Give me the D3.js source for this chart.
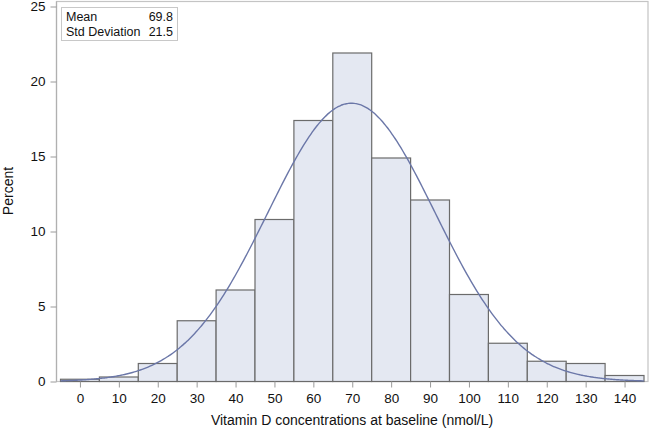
<!DOCTYPE html>
<html>
<head>
<meta charset="utf-8">
<script src="https://cdn.jsdelivr.net/npm/d3@7"></script>
<style>
  body { margin: 0; background: #fff; }
  svg { font-family: "Liberation Sans", Arial, sans-serif; }
  .axis text { font-size: 13.5px; fill: #111; }
  .axis path { display: none; }
  .axis line { stroke: #9a9a9a; }
</style>
</head>
<body>
<div id="graphicContainer"></div>
<script>
// histogram bins (left edges, width 10) and percent per bin
var binStarts = [-5, 5, 15, 25, 35, 45, 55, 65, 75, 85, 95, 105, 115, 125, 135]
var percents = [0.15, 0.3, 1.2, 4.05, 6.1, 10.8, 17.4, 21.9, 14.9, 12.1, 5.8, 2.55, 1.35, 1.2, 0.4]
var xTicks = [0, 10, 20, 30, 40, 50, 60, 70, 80, 90, 100, 110, 120, 130, 140]
var yTicks = [0, 5, 10, 15, 20, 25]
var statLabels = ["Mean", "Std Deviation"]
var statValues = ["69.8", "21.5"]
var binWidth = 10

var width = 650
var height = 431

var svg = d3.select("#graphicContainer").append("svg")
  .attr("width", width).attr("height", height)

var x = d3.scaleLinear().domain([-5, 145]).range([60.5, 644])
var y = d3.scaleLinear().domain([0, 25]).range([381.5, 6.5])

// frame
svg.append("rect")
  .attr("x", 56.5).attr("y", 1.5)
  .attr("width", 648 - 56.5).attr("height", 381.5 - 1.5)
  .attr("fill", "none").attr("stroke", "#c4c4c4").attr("stroke-width", 1.2)

svg.append("line")
  .attr("x1", 56.5).attr("x2", 56.5).attr("y1", 1.5).attr("y2", 381.5)
  .attr("stroke", "#b0b0b0").attr("stroke-width", 1.2)

// bars
svg.selectAll(".bar")
  .data(binStarts.map((d, i) => ({ x0: d, x1: d + binWidth, p: percents[i] })))
  .enter().append("rect")
  .attr("class", "bar")
  .attr("x", d => x(d.x0))
  .attr("width", d => x(d.x1) - x(d.x0))
  .attr("y", d => y(d.p))
  .attr("height", d => y(0) - y(d.p))
  .attr("fill", "#e4e8f2")
  .attr("stroke", "#6b6b6b")
  .attr("stroke-width", 1.2)

// fitted normal curve from the reported mean and sd
var mu = +statValues[0]
var sd = +statValues[1]
var curveX = d3.range(-5, 145.5, 0.5)
var line = d3.line()
  .x(d => x(d))
  .y(d => y(100 * binWidth * Math.exp(-0.5 * Math.pow((d - mu) / sd, 2)) / (sd * Math.sqrt(2 * Math.PI))))
  .curve(d3.curveBasis)

svg.append("path")
  .datum(curveX)
  .attr("d", line)
  .attr("fill", "none")
  .attr("stroke", "#6b77a8")
  .attr("stroke-width", 1.4)

// axes
svg.append("g").attr("class", "axis")
  .attr("transform", "translate(56.5,0)")
  .call(d3.axisLeft(y).tickValues(yTicks).tickSize(6).tickPadding(5))

svg.append("g").attr("class", "axis")
  .attr("transform", "translate(0,381.5)")
  .call(d3.axisBottom(x).tickValues(xTicks).tickSize(6).tickPadding(6))

svg.append("text")
  .attr("transform", "translate(13," + y(12.7) + ") rotate(-90)")
  .attr("text-anchor", "middle")
  .attr("font-size", 14).attr("fill", "#111")
  .text("Percent")

svg.append("text")
  .attr("x", 352).attr("y", 425)
  .attr("text-anchor", "middle")
  .attr("font-size", 14).attr("fill", "#111")
  .text("Vitamin D concentrations at baseline (nmol/L)")

// stats inset
var inset = svg.append("g")
inset.append("rect")
  .attr("x", 61.5).attr("y", 7.5).attr("width", 116).attr("height", 33)
  .attr("fill", "#fff").attr("stroke", "#c8c8c8")

statLabels.forEach(function (lab, i) {
  inset.append("text")
    .attr("x", 66).attr("y", 20.5 + i * 15.5)
    .attr("font-size", 12.5).attr("fill", "#111")
    .text(lab)
  inset.append("text")
    .attr("x", 173).attr("y", 20.5 + i * 15.5)
    .attr("text-anchor", "end")
    .attr("font-size", 12.5).attr("fill", "#111")
    .text(statValues[i])
})
</script>
</body>
</html>
